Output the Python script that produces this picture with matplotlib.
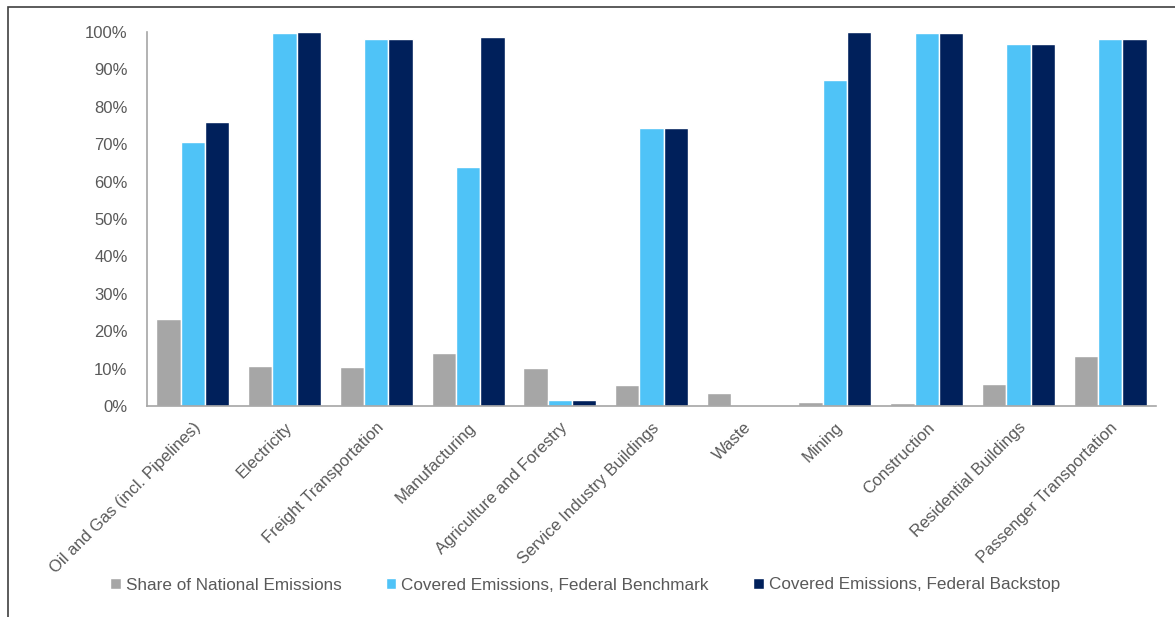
import numpy as np
import matplotlib.pyplot as plt
from matplotlib.patches import Rectangle
from matplotlib.ticker import PercentFormatter

plt.rcParams['font.family'] = ['Liberation Sans', 'DejaVu Sans']

# Data
sectors = ['Oil and Gas (incl. Pipelines)', 'Electricity', 'Freight Transportation',
           'Manufacturing', 'Agriculture and Forestry', 'Service Industry Buildings',
           'Waste', 'Mining', 'Construction', 'Residential Buildings',
           'Passenger Transportation']
share_national = [23.3, 10.8, 10.4, 14.1, 10.2, 5.6, 3.4, 1.2, 0.7, 6.0, 13.4]
covered_benchmark = [70.7, 99.7, 98.0, 63.9, 1.6, 74.3, 0.0, 87.1, 99.6, 96.8, 98.0]
covered_backstop = [76.0, 100.0, 98.0, 98.6, 1.6, 74.3, 0.0, 100.0, 99.6, 96.8, 98.0]

series_names = ['Share of National Emissions',
                'Covered Emissions, Federal Benchmark',
                'Covered Emissions, Federal Backstop']
colors = ['#A6A6A6', '#4FC3F7', '#00205B']
text_col = '#595959'

fig = plt.figure(figsize=(11.75, 6.17), dpi=100)
ax = fig.add_axes([147 / 1175, 1 - 406 / 617, (1156 - 147) / 1175, (406 - 32) / 617])

x = np.arange(len(sectors))
w = 0.265
for i, (vals, name, c) in enumerate(zip([share_national, covered_benchmark, covered_backstop],
                                         series_names, colors)):
    ax.bar(x + (i - 1) * w, vals, w, color=c, edgecolor='white', linewidth=1.0, label=name)

ax.set_xlim(-0.5, len(sectors) - 0.5)
ax.set_ylim(0, 100)
ax.set_yticks(np.arange(0, 101, 10))
ax.yaxis.set_major_formatter(PercentFormatter(decimals=0))
ax.set_xticks(x)
ax.set_xticklabels(sectors, rotation=45, ha='right', rotation_mode='anchor')
ax.tick_params(axis='both', length=0, labelsize=12, colors=text_col)
ax.tick_params(axis='x', pad=10)
ax.tick_params(axis='y', pad=14)

for s in ['top', 'right']:
    ax.spines[s].set_visible(False)
for s in ['left', 'bottom']:
    ax.spines[s].set_color('#A6A6A6')
    ax.spines[s].set_linewidth(1.2)

ax.legend(loc='center', bbox_to_anchor=(0.498, 1 - 585 / 617), bbox_transform=fig.transFigure,
          ncol=3, frameon=False, fontsize=12.3, labelcolor=text_col,
          handlelength=0.6, handleheight=0.6, handletextpad=0.3, columnspacing=2.6)

# outer frame
fig.patches.append(Rectangle((8 / 1175, -0.1), 1.2, 1 - 7 / 617 + 0.1, transform=fig.transFigure,
                             fill=False, edgecolor='#404040', linewidth=1.2))

fig.savefig('out.png', dpi=100)
